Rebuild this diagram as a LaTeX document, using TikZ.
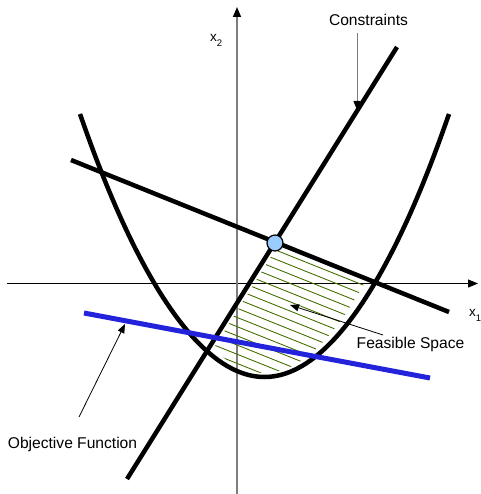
\documentclass[tikz,border=0pt]{standalone}
\usepackage{fontspec}
\setmainfont{Liberation Sans}
\usetikzlibrary{arrows.meta}

\definecolor{hatchgreen}{RGB}{70,110,0}
\definecolor{objblue}{RGB}{35,35,220}
\definecolor{optfill}{RGB}{153,204,255}
\definecolor{axisgray}{RGB}{125,125,125}

\newcommand{\axvar}[1]{x\raisebox{-5pt}{\fontsize{9.5}{10}\selectfont #1}}

\begin{document}
\begin{tikzpicture}[x=1pt, y=-1pt,
    font=\fontsize{15.6}{18}\selectfont,
    axis/.style={line width=1pt, -{Triangle[length=10pt, width=8pt, color=black]}},
    constraint/.style={line width=4.5pt, black},
    objective/.style={line width=5pt, objblue},
    hatch/.style={line width=0.85pt, hatchgreen},
    callout/.style={line width=0.8pt, -{Triangle[length=9pt, width=7pt, color=black]}},
    lab/.style={inner sep=0pt, anchor=base},
    axlab/.style={inner sep=0pt, anchor=base west, font=\fontsize{13.5}{15}\selectfont}]
  \useasboundingbox (0,0) rectangle (480,494);
  % axes
  \coordinate (xstart) at (7,283.5);
  \coordinate (xend) at (478,283.5);
  \coordinate (ystart) at (237,494);
  \coordinate (yend) at (237,7);
  \draw[axis] (xstart) -- (xend);
  \draw[axis, axisgray, line width=1.5pt] (ystart) -- (yend);
  \node[axlab] (x1) at (469,316) {\axvar{1}};
  \node[axlab] (x2) at (210,42) {\axvar{2}};
  % feasible space
  \begin{scope}
    \clip (95,114) parabola bend (264.5,373) (434,114) -- cycle;
    \clip (0,135.5) -- (480,328.4) -- (480,494) -- (0,494) -- cycle;
    \clip (431.4,0) -- (122.6,494) -- (480,494) -- (480,0) -- cycle;
    \foreach \i in {-2,...,14}
      \draw[hatch] (150,209+9.2*\i) -- ++(320,128);
  \end{scope}
  % constraints
  \coordinate (steep top) at (397,47);
  \coordinate (steep bot) at (127,479);
  \coordinate (desc left) at (71,160);
  \coordinate (desc right) at (449,312);
  \draw[constraint] (80,114) parabola bend (264.5,377) (449,114);
  \draw[constraint] (steep top) -- (steep bot);
  \draw[constraint] (desc left) -- (desc right);
  % objective function
  \coordinate (obj left) at (84,313);
  \coordinate (obj right) at (430,378);
  \draw[objective] (obj left) -- (obj right);
  \node[circle, draw, fill=optfill, line width=1.2pt, minimum size=16pt, inner sep=0pt] (opt) at (275,243) {};
  % labels
  \node[lab] (cons) at (368.5,26) {Constraints};
  \node[lab] (feas) at (410.5,348) {Feasible Space};
  \node[lab] (obj) at (72.5,448) {Objective Function};
  \coordinate (cons tail) at (357,33);
  \coordinate (cons tip) at (357,110);
  \coordinate (feas tail) at (383,335);
  \coordinate (feas tip) at (290,305);
  \coordinate (obj tail) at (79,417);
  \coordinate (obj tip) at (125,324);
  \draw[callout, axisgray, line width=1pt] (cons tail) -- (cons tip);
  \draw[callout] (feas tail) -- (feas tip);
  \draw[callout] (obj tail) -- (obj tip);
\end{tikzpicture}
\end{document}
